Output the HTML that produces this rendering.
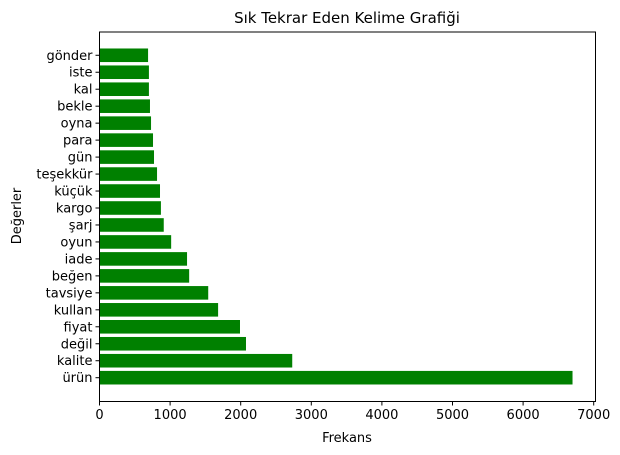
<!DOCTYPE html>
<html><head><meta charset="utf-8"><style>
body{margin:0;background:#fff;}
svg{display:block;font-family:"DejaVu Sans","Liberation Sans",sans-serif;}
</style></head><body>
<svg id="chart" width="620" height="455" xmlns="http://www.w3.org/2000/svg">
<rect width="620" height="455" fill="#fff"/>
<text x="347" y="23" font-size="15" text-anchor="middle" fill="#000">Sık Tekrar Eden Kelime Grafiği</text>
<text x="347" y="442" font-size="13" text-anchor="middle" fill="#000">Frekans</text>
<text x="0" y="0" font-size="13" text-anchor="middle" fill="#000" transform="translate(21,216) rotate(-90)">Değerler</text>
<g id="bars"></g>
<g id="xticks"></g>
<g id="yticks"></g>
<rect x="99.5" y="32" width="496" height="369.5" fill="none" stroke="#000" stroke-width="1"/>
</svg>
<script>
const categories = ["ürün","kalite","değil","fiyat","kullan","tavsiye","beğen","iade","oyun","şarj","kargo","küçük","teşekkür","gün","para","oyna","bekle","kal","iste","gönder"];
const values = [6700,2730,2075,1990,1680,1540,1270,1240,1015,910,870,857,815,772,758,730,715,700,700,688];
const xTicks = [0,1000,2000,3000,4000,5000,6000,7000];
const NS="http://www.w3.org/2000/svg";
const X0=99.5, PXPER=0.0706;
function xs(v){return X0+v*PXPER;}
const Y0=377.7, STEP=16.97;
function ys(i){return Y0-i*STEP;}
const bh=STEP*0.8;
const bars=document.getElementById('bars'), yt=document.getElementById('yticks'), xt=document.getElementById('xticks');
categories.forEach((c,i)=>{
  const r=document.createElementNS(NS,'rect');
  r.setAttribute('x',X0);r.setAttribute('y',ys(i)-bh/2);
  r.setAttribute('width',xs(values[i])-X0);r.setAttribute('height',bh);
  r.setAttribute('fill','#008000');
  
  
  bars.appendChild(r);
  const l=document.createElementNS(NS,'line');
  l.setAttribute('x1',X0-4);l.setAttribute('x2',X0);l.setAttribute('y1',ys(i));l.setAttribute('y2',ys(i));
  l.setAttribute('stroke','#000');
  yt.appendChild(l);
  const t=document.createElementNS(NS,'text');
  t.setAttribute('x',X0-7);t.setAttribute('y',ys(i)+4.5);
  t.setAttribute('font-size','13');t.setAttribute('text-anchor','end');
  
  
  t.textContent=c;
  yt.appendChild(t);
});
xTicks.forEach(v=>{
  const l=document.createElementNS(NS,'line');
  l.setAttribute('x1',xs(v));l.setAttribute('x2',xs(v));l.setAttribute('y1',401.5);l.setAttribute('y2',405.5);
  l.setAttribute('stroke','#000');
  xt.appendChild(l);
  const t=document.createElementNS(NS,'text');
  t.setAttribute('x',xs(v));t.setAttribute('y',419);
  t.setAttribute('font-size','13');t.setAttribute('text-anchor','middle');
  
  
  t.textContent=v;
  xt.appendChild(t);
});
</script>
</body></html>
